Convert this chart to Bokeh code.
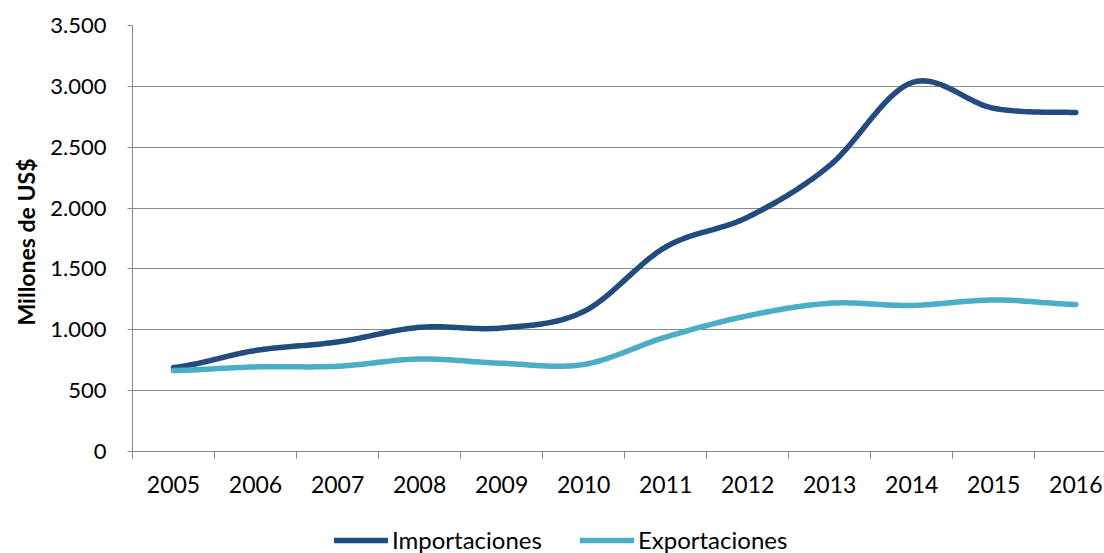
import numpy as np
from bokeh.plotting import figure
from bokeh.models import (ColumnDataSource, FixedTicker, Legend, LegendItem, Range1d, LinearAxis, Title)
from bokeh.embed import file_html
from bokeh.resources import INLINE

years = ["2005", "2006", "2007", "2008", "2009", "2010", "2011", "2012", "2013", "2014", "2015", "2016"]
importaciones = [690, 830, 900, 1020, 1015, 1150, 1680, 1925, 2350, 3030, 2820, 2785]
exportaciones = [665, 695, 700, 760, 725, 715, 940, 1115, 1218, 1200, 1245, 1208]
y_ticks = [0, 500, 1000, 1500, 2000, 2500, 3000, 3500]

FONT = "Lato"
GRAY = "#898989"


def smooth(xs, ys, n=30):
    # Catmull-Rom (Excel-like smoothed line) through the data points
    xs = np.asarray(xs, float)
    ys = np.asarray(ys, float)
    px = np.concatenate([[2 * xs[0] - xs[1]], xs, [2 * xs[-1] - xs[-2]]])
    py = np.concatenate([[ys[0]], ys, [ys[-1]]])
    ox, oy = [], []
    for i in range(1, len(px) - 2):
        t = np.linspace(0, 1, n, endpoint=(i == len(px) - 3))
        for P, O in ((px, ox), (py, oy)):
            p0, p1, p2, p3 = P[i - 1], P[i], P[i + 1], P[i + 2]
            O.extend(0.5 * ((2 * p1) + (-p0 + p2) * t + (2 * p0 - 5 * p1 + 4 * p2 - p3) * t ** 2
                            + (-p0 + 3 * p1 - 3 * p2 + p3) * t ** 3))
    return ox, oy


xpos = [i + 0.5 for i in range(len(years))]

# frame: 426 px for 0..3500, plus 102 px below zero for x labels and legend
Y_MAX = 3500
Y_MIN = -102 * Y_MAX / 426

p = figure(width=1104, height=553, output_backend="svg", toolbar_location=None,
           x_range=Range1d(0, 11.85), y_range=Range1d(Y_MIN, Y_MAX),
           frame_width=972, frame_height=528,
           min_border_left=132, min_border_right=0, min_border_top=25, min_border_bottom=0,
           x_axis_location=None, y_axis_location=None)
p.outline_line_color = None
p.background_fill_color = "white"
p.border_fill_color = "white"

# y axis
yax = LinearAxis(ticker=FixedTicker(ticks=y_ticks, minor_ticks=[]), bounds=(-7 * Y_MAX / 426, Y_MAX))
yax.major_label_overrides = {v: f"{v:,}".replace(",", ".") for v in y_ticks}
yax.major_label_text_font = FONT
yax.major_label_text_font_size = "22px"
yax.major_label_text_color = "#000000"
yax.major_label_standoff = 21
yax.axis_line_color = GRAY
yax.major_tick_line_color = GRAY
yax.major_tick_in = 0
yax.major_tick_out = 5
yax.minor_tick_line_color = None
p.add_layout(yax, "left")

# y axis title, centred on the 0..3500 part of the frame
ytitle = Title(text="Millones de US$", align="left", offset=228,
               text_font=FONT, text_font_style="bold", text_font_size="23px",
               text_color="#000000", standoff=16)
p.add_layout(ytitle, "left")

# x axis, drawn at y = 0 inside the frame
xax = LinearAxis(ticker=FixedTicker(ticks=xpos, minor_ticks=list(range(len(years) + 1))),
                 fixed_location=0)
xax.major_label_overrides = {x: y for x, y in zip(xpos, years)}
xax.major_label_text_font = FONT
xax.major_label_text_font_size = "23px"
xax.major_label_text_color = "#000000"
xax.major_label_standoff = 17
xax.axis_line_color = GRAY
xax.major_tick_line_color = None
xax.major_tick_out = 7
xax.major_tick_in = 0
xax.minor_tick_line_color = GRAY
xax.minor_tick_out = 7
xax.minor_tick_in = 0
p.add_layout(xax, "below")

p.xgrid.grid_line_color = None
p.ygrid.ticker = FixedTicker(ticks=y_ticks)
p.ygrid.grid_line_color = GRAY
p.ygrid.grid_line_width = 1

ix, iy = smooth(xpos, importaciones)
ex, ey = smooth(xpos, exportaciones)
src_i = ColumnDataSource(dict(x=ix, y=iy))
src_e = ColumnDataSource(dict(x=ex, y=ey))
r_i = p.line("x", "y", source=src_i, line_color="#234C7E", line_width=5.5, line_cap="round", line_join="round")
r_e = p.line("x", "y", source=src_e, line_color="#4BADC6", line_width=5.5, line_cap="round", line_join="round")

legend = Legend(items=[LegendItem(label="Importaciones", renderers=[r_i]),
                       LegendItem(label="Exportaciones", renderers=[r_e])],
                orientation="horizontal", location=(202, -1))
legend.label_text_font = FONT
legend.label_text_font_size = "24px"
legend.label_text_color = "#000000"
legend.glyph_width = 54
legend.glyph_height = 24
legend.label_standoff = 4
legend.spacing = 38
legend.padding = 0
legend.margin = 0
legend.border_line_color = None
legend.background_fill_alpha = 0
p.add_layout(legend, "center")

open("out.html", "w").write(file_html(p, INLINE))
